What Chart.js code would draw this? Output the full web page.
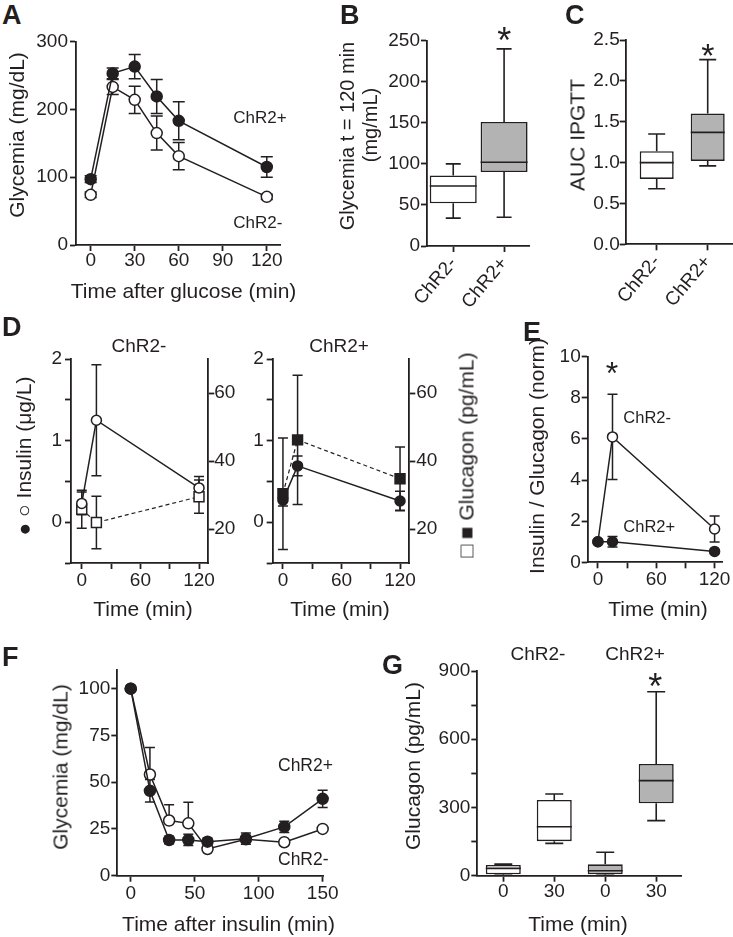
<!DOCTYPE html>
<html>
<head>
<meta charset="utf-8">
<script src="https://cdn.jsdelivr.net/npm/chart.js@4.4.0/dist/chart.umd.min.js"></script>
<style>
body { margin: 0; background: #fff; }
#fig { position: relative; width: 733px; height: 937px; overflow: hidden; font-family: 'Liberation Sans', Arial, Helvetica, sans-serif; color: #231f20; }
#fig canvas { position: absolute; }
.t { position: absolute; white-space: nowrap; line-height: 1; }
</style>
</head>
<body>
<div id="fig"></div>
<script>
// A: IPGTT glycemia (mg/dL), mean +/- SEM
const gttTime = [0, 15, 30, 45, 60, 120];
const gttPos = [97, 253, 263, 219, 183, 115];
const gttPosSem = [5, 8, 18, 25, 28, 15];
const gttNeg = [74, 233, 214, 165, 131, 71];
const gttNegSem = [4, 11, 20, 25, 20, 4];
const gttXTicks = [0, 30, 60, 90, 120];
const gttYTicks = [0, 100, 200, 300];

// B: glycemia at t = 120 min (box stats per group)
const groups = ['ChR2-', 'ChR2+'];
const g120Min = [34, 35];
const g120Q1 = [52, 90];
const g120Med = [73, 102];
const g120Q3 = [86, 151];
const g120Max = [100, 240];
const g120Ticks = [0, 50, 100, 150, 200, 250];

// C: AUC IPGTT
const aucMin = [0.68, 0.96];
const aucQ1 = [0.80, 1.02];
const aucMed = [1.00, 1.37];
const aucQ3 = [1.14, 1.60];
const aucMax = [1.35, 2.26];
const aucTicks = [0, 0.5, 1, 1.5, 2, 2.5];

// D: insulin (ug/L, left) and glucagon (pg/mL, right)
const hormTime = [0, 15, 120];
const insNeg = [0.23, 1.25, 0.42];
const insNegSem = [0.14, 0.68, 0.14];
const gcgNeg = [25.8, 21.9, 29.5];
const gcgNegSem = [5.6, 7.7, 4.9];
const insPos = [0.27, 0.69, 0.26];
const insPosSem = [0.07, 0.12, 0.12];
const gcgPos = [30.4, 46.2, 34.8];
const gcgPosSem = [16.4, 19, 9.3];
const insTicks = [-0.5, 0, 0.5, 1, 1.5, 2];
const gcgTicks = [20, 40, 60];
const hormXTicks = [0, 30, 60, 90, 120];

// E: insulin / glucagon ratio (normalised)
const ratioNeg = [1, 6.1, 1.62];
const ratioNegSem = [0, 2.07, 0.63];
const ratioPos = [1, 1, 0.53];
const ratioPosSem = [0, 0.26, 0.05];
const ratioTicks = [0, 2, 4, 6, 8, 10];

// F: ITT glycemia
const ittTime = [0, 15, 30, 45, 60, 90, 120, 150];
const ittPos = [100, 45.4, 19.1, 19.1, 18.2, 19.8, 26.1, 41.1];
const ittPosSem = [1, 6, 2, 3, 2, 3, 3, 4.6];
const ittNeg = [100, 54.1, 29.5, 28, 14.3, 19.5, 17.9, 25];
const ittNegSem = [0, 14.5, 8.4, 11.3, 1, 1, 1, 1];
const ittXTicks = [0, 50, 100, 150];
const ittYTicks = [0, 25, 50, 75, 100];

// G: glucagon after insulin (box stats, ChR2- 0/30 then ChR2+ 0/30)
const gcgTimeLabels = ['0', '30', '0', '30'];
const gcgBoxMin = [2, 142, 2, 242];
const gcgBoxQ1 = [6, 152, 6, 318];
const gcgBoxMed = [32, 215, 22, 418];
const gcgBoxQ3 = [47, 333, 50, 491];
const gcgBoxMax = [51, 359, 103, 809];
const gcgYTicks = [0, 150, 300, 450, 600, 750, 900];

const INK = '#231f20';
const GREY = '#b3b3b3';
const fig = document.getElementById('fig');

Chart.defaults.font.family = "'Liberation Sans', Arial, Helvetica, sans-serif";
Chart.defaults.color = INK;

// error bars drawn under the lines/points
const errorBars = {
    id: 'errorBars',
    beforeDatasetsDraw(chart) {
        const ctx = chart.ctx;
        chart.data.datasets.forEach((ds, i) => {
            if (!ds.err) return;
            const meta = chart.getDatasetMeta(i);
            const ys = chart.scales[meta.yAxisID];
            const half = ds.cap || 6;
            ctx.save();
            ctx.strokeStyle = INK;
            ctx.lineWidth = 1.5;
            ctx.beginPath();
            meta.data.forEach((pt, j) => {
                const e = ds.err[j];
                if (!e) return;
                const v = ds.data[j].y;
                const top = ys.getPixelForValue(v + e);
                const bot = ds.errUp ? pt.y : ys.getPixelForValue(v - e);
                ctx.moveTo(pt.x, top); ctx.lineTo(pt.x, bot);
                ctx.moveTo(pt.x - half, top); ctx.lineTo(pt.x + half, top);
                if (!ds.errUp) { ctx.moveTo(pt.x - half, bot); ctx.lineTo(pt.x + half, bot); }
            });
            ctx.stroke();
            ctx.restore();
        });
    }
};

// whiskers + median for the floating-bar boxes
const boxWhiskers = {
    id: 'boxWhiskers',
    afterDatasetsDraw(chart) {
        const ctx = chart.ctx;
        chart.data.datasets.forEach((ds, i) => {
            if (!ds.stats) return;
            const ys = chart.scales.y;
            const st = ds.stats;
            const py = v => ys.getPixelForValue(v);
            ctx.save();
            ctx.strokeStyle = INK;
            ctx.lineWidth = 1.6;
            ctx.beginPath();
            chart.getDatasetMeta(i).data.forEach((bar, j) => {
                const cx = bar.x, hw = bar.width / 2, cap = ds.cap;
                ctx.moveTo(cx, py(st.q3[j])); ctx.lineTo(cx, py(st.max[j]));
                ctx.moveTo(cx - cap, py(st.max[j])); ctx.lineTo(cx + cap, py(st.max[j]));
                ctx.moveTo(cx, py(st.q1[j])); ctx.lineTo(cx, py(st.min[j]));
                ctx.moveTo(cx - cap, py(st.min[j])); ctx.lineTo(cx + cap, py(st.min[j]));
                ctx.moveTo(cx - hw, py(st.med[j])); ctx.lineTo(cx + hw, py(st.med[j]));
            });
            ctx.stroke();
            ctx.restore();
        });
    }
};

Chart.register(errorBars, boxWhiskers);

function axis(pos, min, max, ticks, o = {}) {
    return {
        type: 'linear', position: pos, min, max, offset: false,
        border: { display: true, color: INK, width: 1.8 },
        grid: { display: true, offset: false, drawOnChartArea: false, tickLength: 6, tickWidth: 1.8, tickColor: INK, color: INK },
        ticks: {
            autoSkip: false, color: INK, padding: o.pad ?? 1,
            font: { size: 19, lineHeight: 1 },
            minRotation: o.rot || 0, maxRotation: o.rot || 0,
            callback: o.fmt || (v => String(v))
        },
        afterBuildTicks: s => { s.ticks = ticks.map(v => ({ value: v })); }
    };
}

// box = canvas rect, area = wanted chart area (page px)
function makeChart(box, area, type, datasets, scales) {
    const cv = document.createElement('canvas');
    cv.width = box.w; cv.height = box.h;
    cv.style.left = box.x + 'px';
    cv.style.top = box.y + 'px';
    fig.appendChild(cv);

    const size = {
        left: area.l - box.x,
        right: box.x + box.w - area.r,
        bottom: box.y + box.h - area.b
    };
    let padRight = size.right;
    Object.values(scales).forEach(s => {
        const fixed = size[s.position];
        if (s.position === 'right') padRight = 0;
        s.afterFit = sc => { if (sc.isHorizontal()) sc.height = fixed; else sc.width = fixed; };
    });

    return new Chart(cv, {
        type,
        data: { datasets },
        options: {
            responsive: false,
            animation: false,
            devicePixelRatio: 1,
            layout: { autoPadding: false, padding: { left: 0, top: area.t - box.y, right: padRight, bottom: 0 } },
            plugins: { legend: { display: false }, tooltip: { enabled: false } },
            scales
        }
    });
}

const xy = (xs, ys) => xs.map((x, i) => ({ x, y: ys[i] }));

function series(xs, ys, err, filled, extra) {
    return Object.assign({
        data: xy(xs, ys), err,
        borderColor: INK, borderWidth: 1.5,
        pointRadius: 5.5, pointBorderWidth: 1.5,
        pointBackgroundColor: filled ? INK : '#fff', pointBorderColor: INK,
        pointStyle: 'circle', tension: 0, clip: false, yAxisID: 'y', cap: 6
    }, extra);
}

function boxSet(min, q1, med, q3, max, fills, thick, cap) {
    return {
        data: q1.map((v, i) => ({ x: i + 1, y: [v, q3[i]] })),
        stats: { min, q1, med, q3, max },
        backgroundColor: fills, borderColor: INK, borderWidth: 1.6, borderSkipped: false,
        barThickness: thick, inflateAmount: 0, cap
    };
}

const everySixty = v => (v % 60 === 0 ? String(v) : '');
const wholeOnly = v => (Number.isInteger(v) ? String(v) : '');

// A
makeChart({ x: 0, y: 30, w: 300, h: 282 }, { l: 76, t: 40, r: 280, b: 245 }, 'line', [
    series(gttTime, gttPos, gttPosSem, true),
    series(gttTime, gttNeg, gttNegSem, false)
], {
    x: axis('bottom', -10, 129, gttXTicks, { pad: 0 }),
    y: axis('left', 0, 300, gttYTicks, { pad: 2 })
});

// B
makeChart({ x: 330, y: 25, w: 205, h: 285 }, { l: 427, t: 40.7, r: 529, b: 246 }, 'bar', [
    boxSet(g120Min, g120Q1, g120Med, g120Q3, g120Max, ['#fff', GREY], 47, 7.5)
], {
    x: axis('bottom', 0.484, 2.49, [1, 2], { pad: 2, rot: 50, fmt: v => groups[v - 1] }),
    y: axis('left', 0, 250, g120Ticks, { pad: 1 })
});

// C
makeChart({ x: 540, y: 25, w: 193, h: 285 }, { l: 625.7, t: 40, r: 733, b: 244.3 }, 'bar', [
    boxSet(aucMin, aucQ1, aucMed, aucQ3, aucMax, ['#fff', GREY], 34, 8.5)
], {
    x: axis('bottom', 0.392, 2.496, [1, 2], { pad: 2, rot: 50, fmt: v => groups[v - 1] }),
    y: axis('left', 0, 2.5, aucTicks, { pad: 0, fmt: v => v.toFixed(1) })
});

// D, ChR2-
makeChart({ x: 0, y: 325, w: 250, h: 300 }, { l: 71, t: 359, r: 208.3, b: 563 }, 'line', [
    series(hormTime, insNeg, insNegSem, false, { pointRadius: 5, cap: 5 }),
    series(hormTime, gcgNeg, gcgNegSem, false, { yAxisID: 'y2', pointStyle: 'rect', pointRadius: 7, borderDash: [4, 3], borderWidth: 1.2, cap: 5 })
], {
    x: axis('bottom', -11, 129.5, hormXTicks, { pad: 2, fmt: everySixty }),
    y: axis('left', -0.5, 2, insTicks, { pad: 3, fmt: wholeOnly }),
    y2: axis('right', 10, 70, gcgTicks, { pad: 0 })
});

// D, ChR2+
makeChart({ x: 240, y: 325, w: 245, h: 300 }, { l: 272.7, t: 359, r: 409.3, b: 563 }, 'line', [
    series(hormTime, insPos, insPosSem, true, { pointRadius: 5, cap: 5 }),
    series(hormTime, gcgPos, gcgPosSem, true, { yAxisID: 'y2', pointStyle: 'rect', pointRadius: 7, borderDash: [4, 3], borderWidth: 1.2, cap: 5 })
], {
    x: axis('bottom', -10.5, 129.5, hormXTicks, { pad: 2, fmt: everySixty }),
    y: axis('left', -0.5, 2, insTicks, { pad: 3, fmt: wholeOnly }),
    y2: axis('right', 10, 70, gcgTicks, { pad: 1 })
});

// E
makeChart({ x: 515, y: 325, w: 218, h: 300 }, { l: 587.7, t: 356.7, r: 723.3, b: 562.3 }, 'line', [
    series(hormTime, ratioPos, ratioPosSem, true, { pointRadius: 5, cap: 5 }),
    series(hormTime, ratioNeg, ratioNegSem, false, { pointRadius: 5, cap: 5 })
], {
    x: axis('bottom', -10.5, 128, hormXTicks, { pad: 2, fmt: everySixty }),
    y: axis('left', 0, 10, ratioTicks, { pad: 1 })
});

// F
makeChart({ x: 30, y: 655, w: 320, h: 282 }, { l: 117.3, t: 670, r: 323.3, b: 875.7 }, 'line', [
    series(ittTime, ittPos, ittPosSem, true, { cap: 5 }),
    series(ittTime, ittNeg, ittNegSem, false, { cap: 5, errUp: true })
], {
    x: axis('bottom', -10.5, 150.5, ittXTicks, { pad: 3 }),
    y: axis('left', 0, 110, ittYTicks, { pad: 1 })
});

// G
makeChart({ x: 385, y: 640, w: 310, h: 297 }, { l: 477.3, t: 671, r: 681.7, b: 875.7 }, 'bar', [
    boxSet(gcgBoxMin, gcgBoxQ1, gcgBoxMed, gcgBoxQ3, gcgBoxMax, ['#fff', '#fff', GREY, GREY], 35, 9)
], {
    x: axis('bottom', 0.49, 4.5, [1, 2, 3, 4], { pad: 1, fmt: v => gcgTimeLabels[v - 1] }),
    y: axis('left', 0, 900, gcgYTicks, { pad: 1, fmt: v => (v % 300 === 0 ? String(v) : '') })
});

// text overlays: x, baseline, size
function text(str, x, base, size, opts = {}) {
    const d = document.createElement('div');
    d.className = 't';
    d.textContent = str;
    d.style.fontSize = size + 'px';
    d.style.left = x + 'px';
    d.style.top = (base - 0.8465 * size) + 'px';
    if (opts.bold) d.style.fontWeight = 'bold';
    if (opts.center) d.style.transform = 'translateX(-50%)';
    fig.appendChild(d);
}

// rotated axis title, centred on (cx, cy), reads bottom to top
function vtext(str, cx, cy, size) {
    const d = document.createElement('div');
    d.className = 't';
    d.textContent = str;
    d.style.fontSize = size + 'px';
    d.style.left = cx + 'px';
    d.style.top = cy + 'px';
    d.style.transform = 'translate(-50%, -50%) rotate(-90deg)';
    fig.appendChild(d);
}

[['A', 2, 25], ['B', 340, 25], ['C', 565, 25], ['D', 2, 337], ['E', 523, 342], ['F', 2, 667], ['G', 382, 675]]
    .forEach(([s, x, b]) => text(s, x, b, 27, { bold: true }));

// axis titles
text('Time after glucose (min)', 183.5, 297.3, 21, { center: true });
vtext('Glycemia (mg/dL)', 16, 135, 21);
vtext('Glycemia t = 120 min', 346.5, 136, 20);
vtext('(mg/mL)', 369.5, 125, 20);
vtext('AUC IPGTT', 577, 135, 21);
vtext('\u25CF \u25CB Insulin (\u03BCg/L)', 23, 456, 21);
vtext('\u25A1 \u25A0 Glucagon (pg/mL)', 466, 455, 21);
text('Time (min)', 143, 615.3, 21, { center: true });
text('Time (min)', 340, 615.3, 21, { center: true });
vtext('Insulin / Glucagon (norm)', 536, 456, 21);
text('Time (min)', 658, 615.3, 21, { center: true });
vtext('Glycemia (mg/dL)', 60, 767, 21);
text('Time after insulin (min)', 228.5, 930.6, 21, { center: true });
vtext('Glucagon (pg/mL)', 412, 766, 21);
text('Time (min)', 578, 930.6, 21, { center: true });

// series labels and significance marks
text('ChR2+', 233.3, 123.1, 17);
text('ChR2-', 233.3, 228.1, 17);
text('*', 504.3, 53.2, 36, { center: true });
text('*', 707.8, 67.1, 34, { center: true });
text('ChR2-', 139, 351.8, 19, { center: true });
text('ChR2+', 339, 351.8, 19, { center: true });
text('*', 612, 384.1, 32, { center: true });
text('ChR2-', 623.3, 423.4, 16.5);
text('ChR2+', 623.3, 532.2, 16.5);
text('ChR2+', 278, 771.6, 17.5);
text('ChR2-', 278, 865.6, 17.5);
text('ChR2-', 538, 660.1, 19, { center: true });
text('ChR2+', 635, 660.1, 19, { center: true });
text('*', 655.3, 699.7, 36, { center: true });
</script>
</body>
</html>
